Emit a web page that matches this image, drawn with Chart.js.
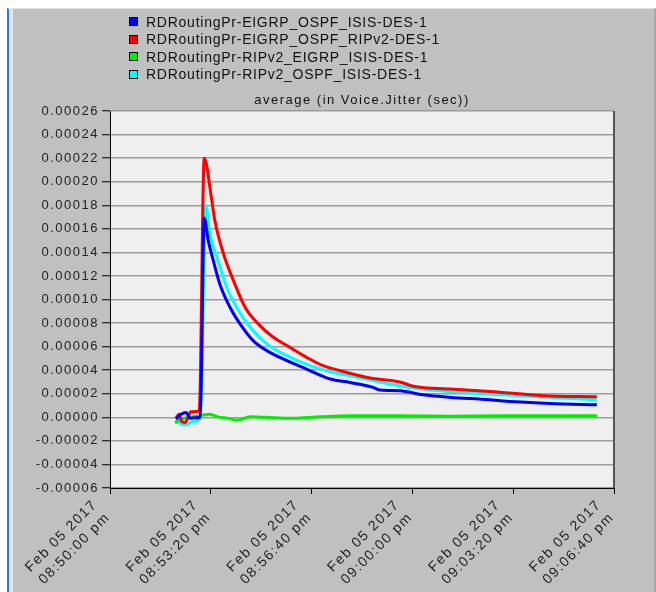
<!DOCTYPE html>
<html>
<head>
<meta charset="utf-8">
<script src="https://cdn.jsdelivr.net/npm/chart.js@4.4.1/dist/chart.umd.min.js"></script>
<style>
  html, body { margin: 0; padding: 0; background: #fff; }
  #wrap { position: relative; width: 656px; height: 592px; overflow: hidden; }
  #frame { position: absolute; left: 7px; top: 8px; right: 0; bottom: 0; background: #c0c0c0;
           border-left: 2px solid #2b79d4; border-top: 1px solid #e2e2e2; border-right: 2px solid #a8a8a8; }
  #frame:before { content: ''; position: absolute; left: 0; top: 0; bottom: 0; width: 4px; background: #e4e4e4; }
  #chart { position: absolute; left: 0; top: 0; }
  #legend { position: absolute; left: 129px; top: 13px; font: 14px "Liberation Sans", Arial, sans-serif;
            letter-spacing: .75px; color: #111; }
  .row { height: 17.5px; display: flex; align-items: center; white-space: nowrap; }
  .sw { width: 7px; height: 7px; border: 1px solid #000; margin-right: 8px; }
</style>
</head>
<body>
<div id="wrap">
  <div id="frame"></div>
  <canvas id="chart" width="656" height="592"></canvas>
  <div id="legend"></div>
</div>
<script>
// ── Data (x = seconds after 08:50:00 pm) ───────────────────────
const seriesNames = [
  'RDRoutingPr-EIGRP_OSPF_ISIS-DES-1',
  'RDRoutingPr-EIGRP_OSPF_RIPv2-DES-1',
  'RDRoutingPr-RIPv2_EIGRP_ISIS-DES-1',
  'RDRoutingPr-RIPv2_OSPF_ISIS-DES-1'
];
const seriesColors = ['#0000ff', '#ff0000', '#00ee00', '#00ffff'];

const blueTimes  = [131, 141, 151, 159, 169, 179, 187, 195, 205, 218, 238, 258, 284, 311, 351, 390, 437, 476, 522, 536, 575, 621, 675, 754, 774, 873, 966];
const blueJitter = [-0.0000015, 0.0000026, 0.0000041, -0.0000009, -0.0000004, 0.0000000, 0.000169, 0.000150, 0.000133, 0.000113,
                    0.0000934, 0.0000793, 0.0000651, 0.0000566, 0.0000481, 0.0000410, 0.0000325, 0.0000296, 0.0000254, 0.0000231,
                    0.0000225, 0.0000191, 0.0000169, 0.0000149, 0.0000140, 0.0000117, 0.0000106];

const redTimes  = [131, 137, 143, 149, 155, 160, 177, 187, 202, 208, 225, 245, 268, 294, 324, 351, 390, 423, 470, 516, 575, 602, 675, 754, 859, 966];
const redJitter = [-0.0000004, 0.0000026, -0.0000038, -0.0000044, 0.0000000, 0.0000047, 0.0000051, 0.000220, 0.000184, 0.000167,
                   0.000139, 0.000116, 0.0000934, 0.0000793, 0.0000679, 0.0000609, 0.0000509, 0.0000438, 0.0000381, 0.0000334,
                   0.0000300, 0.0000264, 0.0000240, 0.0000220, 0.0000183, 0.0000174];

const greenTimes  = [129, 139, 151, 165, 179, 198, 214, 234, 252, 278, 308, 357, 417, 476, 575, 675, 774, 873, 966];
const greenJitter = [-0.0000047, -0.0000021, -0.0000004, 0.0000004, 0.0000013, 0.0000027, 0.0000004, -0.0000009, -0.0000024, 0.0000004,
                     0.0000000, -0.0000009, 0.0000004, 0.0000013, 0.0000013, 0.0000009, 0.0000013, 0.0000013, 0.0000013];

const cyanTimes  = [131, 141, 151, 163, 179, 190, 198, 212, 232, 251, 278, 311, 351, 397, 443, 476, 601, 754, 966];
const cyanJitter = [-0.0000021, -0.0000055, -0.0000064, -0.0000038, -0.0000004, 0.000180, 0.000156, 0.000136, 0.000110, 0.0000934,
                    0.0000764, 0.0000623, 0.0000523, 0.0000438, 0.0000381, 0.0000353, 0.0000249, 0.0000197, 0.0000149];

const xTickSeconds = [0, 200, 400, 600, 800, 1000];
const xTickLabels = [
  ['Feb 05 2017', '08:50:00 pm'],
  ['Feb 05 2017', '08:53:20 pm'],
  ['Feb 05 2017', '08:56:40 pm'],
  ['Feb 05 2017', '09:00:00 pm'],
  ['Feb 05 2017', '09:03:20 pm'],
  ['Feb 05 2017', '09:06:40 pm']
];
const chartTitle = 'average (in Voice.Jitter (sec))';

// ── Legend (html) ──────────────────────────────────────────────
document.getElementById('legend').innerHTML = seriesNames.map((n, i) =>
  `<div class="row"><span class="sw" style="background:${seriesColors[i]}"></span>${n}</div>`).join('');

// ── Chart ──────────────────────────────────────────────────────
const pts = (xs, ys) => xs.map((x, i) => ({ x, y: ys[i] }));
const FONT = '"Liberation Sans", Arial, sans-serif';

const spacing = {
  id: 'spacing',
  beforeLayout(c) { c.ctx.letterSpacing = '1.5px'; },
  beforeDraw(c) { c.ctx.letterSpacing = '1.5px'; }
};
const plotBg = {
  id: 'plotBg',
  beforeDraw(c) {
    const { ctx, chartArea: a } = c;
    ctx.save();
    ctx.fillStyle = '#efefef';
    ctx.fillRect(a.left, a.top, a.right - a.left, a.bottom - a.top);
    ctx.restore();
  },
  afterDraw(c) {
    const { ctx, chartArea: a } = c;
    ctx.save();
    ctx.strokeStyle = '#555';
    ctx.lineWidth = 2;
    ctx.beginPath();
    ctx.moveTo(a.right, a.top);
    ctx.lineTo(a.right, a.bottom);
    ctx.stroke();
    ctx.restore();
  }
};

new Chart(document.getElementById('chart'), {
  type: 'line',
  data: {
    datasets: [
      [blueTimes, blueJitter], [redTimes, redJitter], [greenTimes, greenJitter], [cyanTimes, cyanJitter]
    ].map(([xs, ys], i) => ({
      label: seriesNames[i],
      data: pts(xs, ys),
      borderColor: seriesColors[i],
      backgroundColor: seriesColors[i],
      borderWidth: 3,
      pointRadius: 0,
      cubicInterpolationMode: 'monotone',
      fill: false
    }))
  },
  options: {
    responsive: false,
    animation: false,
    layout: { padding: { top: 93, right: 42, bottom: 0, left: 0 } },
    plugins: {
      legend: { display: false },
      tooltip: { enabled: false },
      title: {
        display: true, fullSize: false, text: chartTitle, color: '#111',
        font: { family: FONT, size: 13, weight: 'normal' },
        padding: { top: 0, bottom: 2.4 }
      }
    },
    scales: {
      x: {
        type: 'linear', min: 0, max: 1000,
        afterBuildTicks: s => { s.ticks = xTickSeconds.map(v => ({ value: v })); },
        afterFit: s => { s.height = 104; },
        ticks: {
          autoSkip: false, minRotation: 45, maxRotation: 45,
          labelOffset: -15, padding: 2, color: '#222',
          font: { family: FONT, size: 14, lineHeight: 1.3 },
          callback: v => xTickLabels[xTickSeconds.indexOf(v)] || ''
        },
        grid: { drawOnChartArea: false, tickLength: 6, tickColor: '#000', tickWidth: 1 },
        border: { color: '#000', width: 1 }
      },
      y: {
        min: -0.00006, max: 0.00026,
        afterFit: s => { s.width = 110; },
        ticks: {
          stepSize: 0.00002, autoSkip: false, padding: 3, color: '#222',
          font: { family: FONT, size: 13 },
          callback: v => (Math.abs(v) < 1e-12 ? 0 : v).toFixed(5)
        },
        grid: { color: '#9c9c9c', lineWidth: 1.5, tickLength: 8, tickColor: '#000', tickWidth: 1 },
        border: { color: '#000', width: 1 }
      }
    }
  },
  plugins: [spacing, plotBg]
});
</script>
</body>
</html>
